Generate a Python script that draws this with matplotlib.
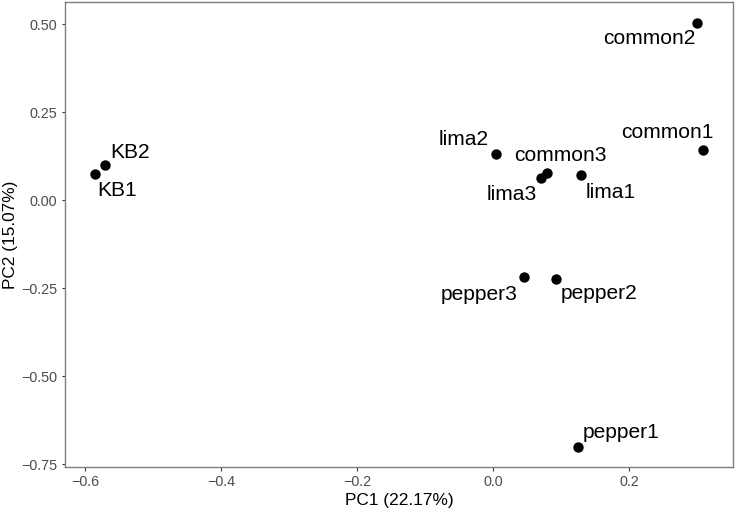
import matplotlib
matplotlib.use("Agg")
import matplotlib.pyplot as plt

plt.rcParams['font.family'] = ['Liberation Sans', 'DejaVu Sans']

samples = ["KB1", "KB2", "common2", "common1", "lima2", "common3", "lima3", "lima1",
           "pepper3", "pepper2", "pepper1"]
pc1 = [-0.585, -0.570, 0.300, 0.309, 0.005, 0.079, 0.070, 0.130, 0.046, 0.093, 0.125]
pc2 = [0.073, 0.099, 0.504, 0.143, 0.130, 0.078, 0.062, 0.070, -0.218, -0.224, -0.701]

x_ticks = [-0.6, -0.4, -0.2, 0.0, 0.2]
x_tick_labels = ["\u22120.6", "\u22120.4", "\u22120.2", "0.0", "0.2"]
y_ticks = [0.50, 0.25, 0.00, -0.25, -0.50, -0.75]
y_tick_labels = ["0.50", "0.25", "0.00", "\u22120.25", "\u22120.50", "\u22120.75"]

# label placement (offset in pixels, alignment) — repel-like
label_offsets = {
    "KB1": (2, -16, "left"),
    "KB2": (5, 13, "left"),
    "common2": (-2, -16, "right"),
    "common1": (10, 17, "right"),
    "lima2": (-8, 15, "right"),
    "common3": (-33, 17, "left"),
    "lima3": (-4, -16, "right"),
    "lima1": (4, -17, "left"),
    "pepper3": (-7, -18, "right"),
    "pepper2": (4, -15, "left"),
    "pepper1": (5, 14, "left"),
}

W, H = 736, 512
fig = plt.figure(figsize=(W / 100, H / 100), dpi=100)
ax = fig.add_axes([65 / W, (H - 467) / H, (733 - 65) / W, (467 - 2) / H])

ax.scatter(pc1, pc2, s=56, color="black", zorder=3, linewidths=0)
for name, x, y in zip(samples, pc1, pc2):
    dx, dy, ha = label_offsets[name]
    ax.annotate(name, (x, y), xytext=(dx, dy), textcoords="offset pixels",
                ha=ha, va="center", fontsize=15.1, color="black")

ax.set_xlim(-0.6294, 0.3529)
ax.set_ylim(-0.7585, 0.5625)
ax.set_xticks(x_ticks)
ax.set_xticklabels(x_tick_labels)
ax.set_yticks(y_ticks)
ax.set_yticklabels(y_tick_labels)
ax.tick_params(axis="both", length=3.5 * 0.72, width=0.8, color="#333333",
               labelsize=10.4, labelcolor="#4D4D4D", pad=3)
for sp in ax.spines.values():
    sp.set_color("#7F7F7F")
    sp.set_linewidth(1.0)

ax.set_xlabel("PC1 (22.17%)", fontsize=12.4, color="black", labelpad=3)
ax.set_ylabel("PC2 (15.07%)", fontsize=12.4, color="black", labelpad=2)

fig.savefig("out.png", dpi=100)
